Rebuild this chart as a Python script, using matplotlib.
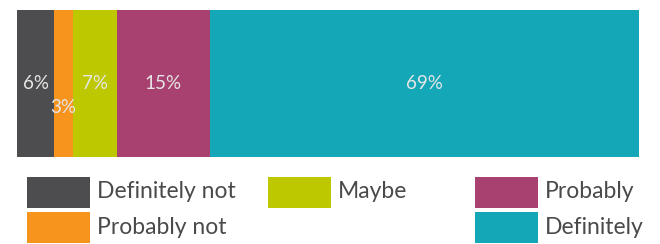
import matplotlib.pyplot as plt
from matplotlib.patches import Rectangle

# Survey answers, share of respondents (%)
answers = ["Definitely not", "Probably not", "Maybe", "Probably", "Definitely"]
shares = [6, 3, 7, 15, 69]
colors = ["#4d4d4f", "#f7941d", "#bdc800", "#a8416f", "#14a7b7"]

plt.rcParams['font.family'] = ['Lato', 'DejaVu Sans']

W, H = 660, 244
fig = plt.figure(figsize=(W / 100, H / 100), dpi=100)

# Stacked bar
ax = fig.add_axes([17 / W, (H - 157) / H, 622 / W, 147 / H])
left = 0
for name, val, col in zip(answers, shares, colors):
    ax.barh(0, val, left=left, height=1, color=col, edgecolor="none")
    # small segment label is pushed down so it does not collide
    y = -0.16 if val < 5 else 0
    ax.text(left + val / 2, y, f"{val}%", ha="center", va="center",
            color="#e6e6e6", fontsize=13.5)
    left += val
ax.set_xlim(0, 100)
ax.set_ylim(-0.5, 0.5)
ax.axis("off")

# Legend drawn by hand to keep the uneven column layout
lg = fig.add_axes([0, 0, 1, 1])
lg.set_xlim(0, W)
lg.set_ylim(H, 0)
lg.axis("off")
slots = [(27, 177), (27, 212), (268, 177), (475, 177), (475, 212)]
for (x, y), name, col in zip(slots, answers, colors):
    lg.add_patch(Rectangle((x, y), 63, 31, color=col, lw=0))
    lg.text(x + 70, y + 15, name, ha="left", va="center",
            color="#4a4a4a", fontsize=16.5)

fig.savefig("out.png", dpi=100)
